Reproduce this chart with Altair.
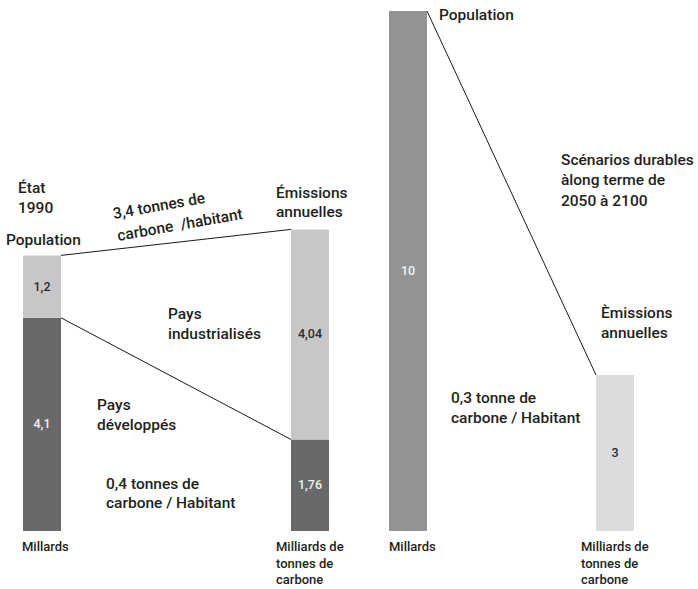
import altair as alt
import pandas as pd

# ---------------- data ----------------
SEG_BAR = ["pop1990", "pop1990", "emis1990", "emis1990", "pop2100", "emis2100"]
SEG_KIND = ["dark", "light", "dark", "light", "mid", "pale"]
SEG_VALUE = [4.1, 1.2, 1.76, 4.04, 10, 3]
SEG_LABEL = ["4,1", "1,2", "1,76", "4,04", "10", "3"]

# links join the top of one segment to the top of another (segment indices)
LINK_FROM = [1, 0, 4]
LINK_TO = [3, 2, 5]

ANN_TEXT = [
    "État", "1990", "Population",
    "Émissions", "annuelles",
    "Pays", "industrialisés",
    "Pays", "développés",
    "0,4 tonnes de", "carbone / Habitant",
    "Population",
    "Scénarios durables", "àlong terme de", "2050 à 2100",
    "Èmissions", "annuelles",
    "0,3 tonne de", "carbone / Habitant",
]
ROT_TEXT = ["3,4 tonnes de", "carbone\u00a0\u00a0/habitant"]
FOOT_TEXT = ["Millards", "Milliards de", "tonnes de", "carbone",
             "Millards", "Milliards de", "tonnes de", "carbone"]

# ---------------- layout ----------------
BAR_LEFT = {"pop1990": 23, "emis1990": 291, "pop2100": 389, "emis2100": 596}
BAR_W = 38
COLORS = {"dark": "#69696c", "light": "#c7c7c9", "mid": "#939396", "pale": "#dcdcde"}
LABEL_COLORS = {"dark": "#f2f2f2", "light": "#2b2b2b", "mid": "#f2f2f2", "pale": "#2b2b2b"}
TXT = "#231f20"
FONT = "Roboto"

ANN_X = [18, 18, 6, 276, 276, 168, 168, 97, 97, 106, 106, 439, 561, 561, 561, 601, 601, 451, 451]
ANN_Y = [188, 208, 240, 193, 212, 314, 334, 405, 425, 484, 503, 15, 160, 180, 201, 313, 333, 398, 418]
ROT_X = [159, 180]
ROT_Y = [206, 225]
FOOT_X = [22, 276, 276, 276, 389, 581, 581, 581]
FOOT_Y = [547, 547, 564, 580, 547, 547, 564, 580]

yscale = alt.Scale(domain=[0, 10], range=[531, 11])

# ---------------- tables ----------------
rows = []
acc = {}
for b, k, v, lab in zip(SEG_BAR, SEG_KIND, SEG_VALUE, SEG_LABEL):
    y0 = acc.get(b, 0.0)
    y1 = y0 + v
    acc[b] = y1
    rows.append(dict(bar=b, kind=k, y0=y0, y1=y1, mid=(y0 + y1) / 2, label=lab,
                     x0=BAR_LEFT[b], x1=BAR_LEFT[b] + BAR_W,
                     xc=BAR_LEFT[b] + BAR_W / 2,
                     fill=COLORS[k], lc=LABEL_COLORS[k]))
seg = pd.DataFrame(rows)

links = pd.DataFrame([
    dict(xa=seg.loc[a, "x1"], ya=seg.loc[a, "y1"],
         xb=seg.loc[b, "x0"], yb=seg.loc[b, "y1"])
    for a, b in zip(LINK_FROM, LINK_TO)
])

ann = pd.DataFrame(dict(t=ANN_TEXT, x=ANN_X, y=ANN_Y))
rot = pd.DataFrame(dict(t=ROT_TEXT, x=ROT_X, y=ROT_Y))
foot = pd.DataFrame(dict(t=FOOT_TEXT, x=FOOT_X, y=FOOT_Y))

# ---------------- marks ----------------
bars = alt.Chart(seg).mark_rect().encode(
    x=alt.X("x0:Q", scale=None, axis=None),
    x2="x1:Q",
    y=alt.Y("y0:Q", scale=yscale, axis=None),
    y2="y1:Q",
    fill=alt.Fill("fill:N", scale=None),
)

vals = alt.Chart(seg).mark_text(font=FONT, fontSize=12.5, fontWeight=500,
                                 baseline="middle", align="center").encode(
    x=alt.X("xc:Q", scale=None, axis=None),
    y=alt.Y("mid:Q", scale=yscale, axis=None),
    text="label:N",
    color=alt.Color("lc:N", scale=None),
)

rules = alt.Chart(links).mark_rule(color="#1a1a1a", strokeWidth=1).encode(
    x=alt.X("xa:Q", scale=None, axis=None),
    x2="xb:Q",
    y=alt.Y("ya:Q", scale=yscale, axis=None),
    y2="yb:Q",
)

anns = alt.Chart(ann).mark_text(font=FONT, fontSize=15.5, fontWeight=500, color=TXT,
                                 align="left", baseline="middle").encode(
    x=alt.X("x:Q", scale=None, axis=None),
    y=alt.Y("y:Q", scale=None, axis=None),
    text="t:N",
)

rots = alt.Chart(rot).mark_text(font=FONT, fontSize=15.5, fontWeight=500, color=TXT,
                                 align="center", baseline="middle", angle=350).encode(
    x=alt.X("x:Q", scale=None, axis=None),
    y=alt.Y("y:Q", scale=None, axis=None),
    text="t:N",
)

foots = alt.Chart(foot).mark_text(font=FONT, fontSize=13, fontWeight=500, color=TXT,
                                   align="left", baseline="middle").encode(
    x=alt.X("x:Q", scale=None, axis=None),
    y=alt.Y("y:Q", scale=None, axis=None),
    text="t:N",
)

chart = alt.layer(bars, rules, vals, anns, rots, foots).resolve_scale(
    x="independent", y="independent"
).properties(
    width=698, height=589, padding=0, autosize=alt.AutoSizeParams(type="none"),
    background="white",
).configure_view(stroke=None)

chart.save("out.html", embed_options={"renderer": "svg", "actions": False})
